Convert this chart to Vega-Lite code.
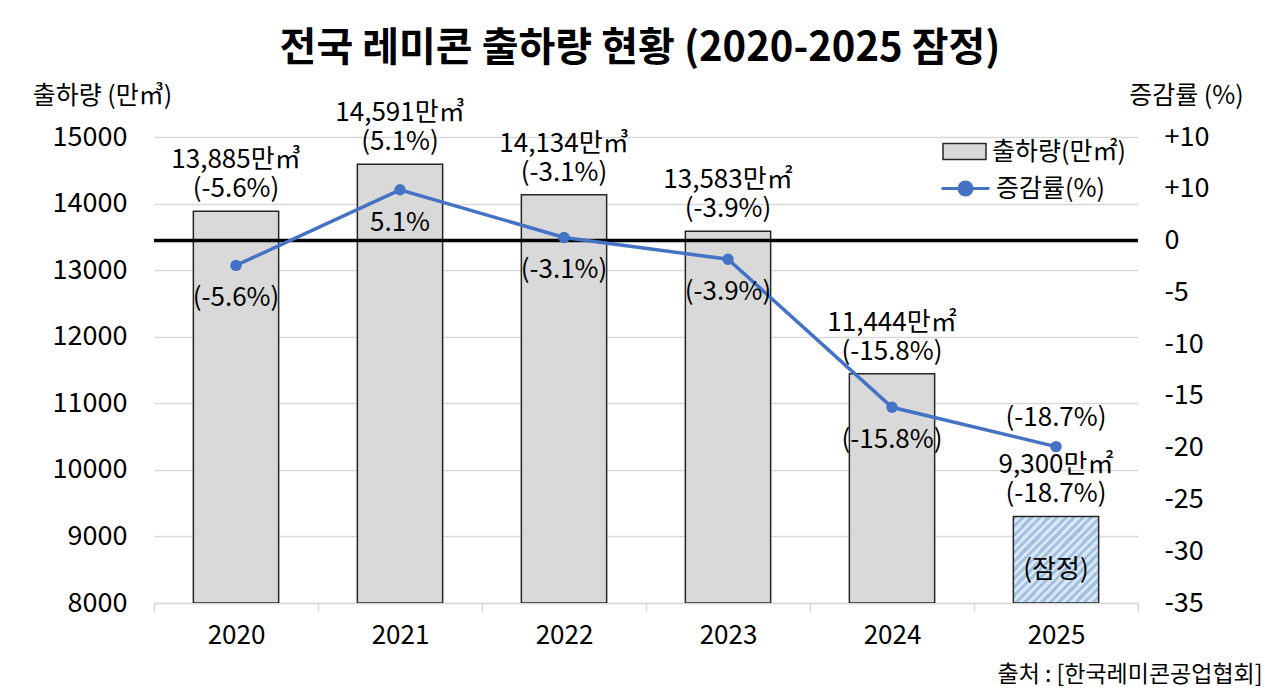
{
  "$schema": "https://vega.github.io/schema/vega-lite/v6.json",
  "description": "전국 레미콘 출하량 현황, bars for volume and a line for the growth rate",
  "width": 984,
  "height": 466,
  "autosize": {"type": "none"},
  "padding": {"left": 154, "top": 137, "right": 142, "bottom": 95},
  "background": "white",
  "title": {
    "text": "전국 레미콘 출하량 현황 (2020-2025 잠정)",
    "frame": "group",
    "anchor": "middle",
    "dx": -6,
    "offset": 14,
    "font": "Noto Sans CJK KR",
    "fontSize": 40,
    "fontWeight": "bold",
    "color": "black"
  },
  "config": {
    "view": {"stroke": null},
    "font": "Noto Sans CJK KR",
    "axis": {
      "labelFont": "Noto Sans CJK KR",
      "labelFontSize": 27,
      "labelColor": "black",
      "titleFont": "Noto Sans CJK KR",
      "titleFontSize": 25,
      "titleFontWeight": "normal",
      "titleColor": "black"
    },
    "axisX": {
      "labelAngle": 0,
      "labelFontSize": 26,
      "labelPadding": 11,
      "domainColor": "#d9d9d9",
      "domainWidth": 1.5,
      "tickColor": "#d9d9d9",
      "tickWidth": 1.5,
      "tickSize": 8,
      "tickBand": "extent",
      "titleX": 1108,
      "titleY": 71,
      "titleAlign": "right",
      "titleBaseline": "middle",
      "titleFontSize": 23
    },
    "legend": {
      "labelFont": "Noto Sans CJK KR",
      "labelFontSize": 25,
      "labelColor": "black",
      "padding": 0
    },
    "text": {"font": "Noto Sans CJK KR", "fontSize": 26, "color": "black"}
  },
  "data": {
    "values": [
      {"year": "2020", "volume": 13885, "rate": -5.6, "rate_plot": -2.4, "bar_label": ["13,885만㎥", "(-5.6%)"], "line_label": "(-5.6%)"},
      {"year": "2021", "volume": 14591, "rate": 5.1, "rate_plot": 4.9, "bar_label": ["14,591만㎥", "(5.1%)"], "line_label": "5.1%"},
      {"year": "2022", "volume": 14134, "rate": -3.1, "rate_plot": 0.3, "bar_label": ["14,134만㎥", "(-3.1%)"], "line_label": "(-3.1%)"},
      {"year": "2023", "volume": 13583, "rate": -3.9, "rate_plot": -1.8, "bar_label": ["13,583만㎡", "(-3.9%)"], "line_label": "(-3.9%)"},
      {"year": "2024", "volume": 11444, "rate": -15.8, "rate_plot": -16.1, "bar_label": ["11,444만㎡", "(-15.8%)"], "line_label": "(-15.8%)"},
      {"year": "2025", "volume": 9300, "rate": -18.7, "rate_plot": -19.9, "bar_label": ["9,300만㎡", "(-18.7%)"], "line_label": "(-18.7%)", "note": "(잠정)"}
    ]
  },
  "layer": [
    {
      "encoding": {
        "x": {
          "field": "year",
          "type": "ordinal",
          "scale": {"paddingInner": 0, "paddingOuter": 0},
          "axis": {"title": "출처 : [한국레미콘공업협회]"}
        },
        "y": {
          "field": "volume",
          "type": "quantitative",
          "scale": {"domain": [8000, 15000], "nice": false, "zero": false},
          "axis": {
            "orient": "left",
            "values": [8000, 9000, 10000, 11000, 12000, 13000, 14000, 15000],
            "format": "d",
            "grid": true,
            "gridColor": "#d9d9d9",
            "gridWidth": 1.5,
            "domain": false,
            "ticks": false,
            "labelPadding": 27,
            "title": "출하량 (만㎥)",
            "titleAngle": 0,
            "titleX": -52,
            "titleY": -42,
            "titleAlign": "center",
            "titleBaseline": "middle"
          }
        }
      },
      "layer": [
        {
          "transform": [{"filter": "datum.year !== '2025'"}],
          "mark": {"type": "bar", "width": {"band": 0.52}, "stroke": "#262626", "strokeWidth": 1.5, "clip": true},
          "encoding": {
            "y2": {"datum": 8000},
            "fill": {
              "datum": "출하량(만㎡)",
              "scale": {"range": ["#d9d9d9"]},
              "legend": {
                "orient": "none",
                "legendX": 788,
                "legendY": -8,
                "title": null,
                "symbolType": "M-1,-0.37H1V0.37H-1Z",
                "symbolSize": 1849,
                "labelOffset": 5,
                "encode": {"symbols": {"update": {"stroke": {"value": "#262626"}, "strokeWidth": {"value": 1.5}}}}
              }
            }
          }
        },
        {
          "transform": [{"filter": "datum.year === '2025'"}],
          "mark": {
            "type": "bar",
            "width": {"band": 0.52},
            "stroke": "#262626",
            "strokeWidth": 1.5,
            "clip": true,
            "fill": {
              "gradient": "linear",
              "x1": 0, "y1": 0, "x2": 1, "y2": 1,
              "stops": [
                {"offset": 0, "color": "#a3c2e3"}, {"offset": 0.025, "color": "#a3c2e3"},
                {"offset": 0.025, "color": "#d9e7f5"}, {"offset": 0.05, "color": "#d9e7f5"},
                {"offset": 0.05, "color": "#a3c2e3"}, {"offset": 0.075, "color": "#a3c2e3"},
                {"offset": 0.075, "color": "#d9e7f5"}, {"offset": 0.1, "color": "#d9e7f5"},
                {"offset": 0.1, "color": "#a3c2e3"}, {"offset": 0.125, "color": "#a3c2e3"},
                {"offset": 0.125, "color": "#d9e7f5"}, {"offset": 0.15, "color": "#d9e7f5"},
                {"offset": 0.15, "color": "#a3c2e3"}, {"offset": 0.175, "color": "#a3c2e3"},
                {"offset": 0.175, "color": "#d9e7f5"}, {"offset": 0.2, "color": "#d9e7f5"},
                {"offset": 0.2, "color": "#a3c2e3"}, {"offset": 0.225, "color": "#a3c2e3"},
                {"offset": 0.225, "color": "#d9e7f5"}, {"offset": 0.25, "color": "#d9e7f5"},
                {"offset": 0.25, "color": "#a3c2e3"}, {"offset": 0.275, "color": "#a3c2e3"},
                {"offset": 0.275, "color": "#d9e7f5"}, {"offset": 0.3, "color": "#d9e7f5"},
                {"offset": 0.3, "color": "#a3c2e3"}, {"offset": 0.325, "color": "#a3c2e3"},
                {"offset": 0.325, "color": "#d9e7f5"}, {"offset": 0.35, "color": "#d9e7f5"},
                {"offset": 0.35, "color": "#a3c2e3"}, {"offset": 0.375, "color": "#a3c2e3"},
                {"offset": 0.375, "color": "#d9e7f5"}, {"offset": 0.4, "color": "#d9e7f5"},
                {"offset": 0.4, "color": "#a3c2e3"}, {"offset": 0.425, "color": "#a3c2e3"},
                {"offset": 0.425, "color": "#d9e7f5"}, {"offset": 0.45, "color": "#d9e7f5"},
                {"offset": 0.45, "color": "#a3c2e3"}, {"offset": 0.475, "color": "#a3c2e3"},
                {"offset": 0.475, "color": "#d9e7f5"}, {"offset": 0.5, "color": "#d9e7f5"},
                {"offset": 0.5, "color": "#a3c2e3"}, {"offset": 0.525, "color": "#a3c2e3"},
                {"offset": 0.525, "color": "#d9e7f5"}, {"offset": 0.55, "color": "#d9e7f5"},
                {"offset": 0.55, "color": "#a3c2e3"}, {"offset": 0.575, "color": "#a3c2e3"},
                {"offset": 0.575, "color": "#d9e7f5"}, {"offset": 0.6, "color": "#d9e7f5"},
                {"offset": 0.6, "color": "#a3c2e3"}, {"offset": 0.625, "color": "#a3c2e3"},
                {"offset": 0.625, "color": "#d9e7f5"}, {"offset": 0.65, "color": "#d9e7f5"},
                {"offset": 0.65, "color": "#a3c2e3"}, {"offset": 0.675, "color": "#a3c2e3"},
                {"offset": 0.675, "color": "#d9e7f5"}, {"offset": 0.7, "color": "#d9e7f5"},
                {"offset": 0.7, "color": "#a3c2e3"}, {"offset": 0.725, "color": "#a3c2e3"},
                {"offset": 0.725, "color": "#d9e7f5"}, {"offset": 0.75, "color": "#d9e7f5"},
                {"offset": 0.75, "color": "#a3c2e3"}, {"offset": 0.775, "color": "#a3c2e3"},
                {"offset": 0.775, "color": "#d9e7f5"}, {"offset": 0.8, "color": "#d9e7f5"},
                {"offset": 0.8, "color": "#a3c2e3"}, {"offset": 0.825, "color": "#a3c2e3"},
                {"offset": 0.825, "color": "#d9e7f5"}, {"offset": 0.85, "color": "#d9e7f5"},
                {"offset": 0.85, "color": "#a3c2e3"}, {"offset": 0.875, "color": "#a3c2e3"},
                {"offset": 0.875, "color": "#d9e7f5"}, {"offset": 0.9, "color": "#d9e7f5"},
                {"offset": 0.9, "color": "#a3c2e3"}, {"offset": 0.925, "color": "#a3c2e3"},
                {"offset": 0.925, "color": "#d9e7f5"}, {"offset": 0.95, "color": "#d9e7f5"},
                {"offset": 0.95, "color": "#a3c2e3"}, {"offset": 0.975, "color": "#a3c2e3"},
                {"offset": 0.975, "color": "#d9e7f5"}, {"offset": 1, "color": "#d9e7f5"}
              ]
            }
          },
          "encoding": {"y2": {"datum": 8000}}
        },
        {
          "mark": {"type": "text", "baseline": "bottom", "dy": -38, "lineHeight": 29},
          "encoding": {"text": {"field": "bar_label"}}
        },
        {
          "transform": [{"filter": "datum.note != null"}],
          "mark": {"type": "text", "baseline": "middle", "dy": 54},
          "encoding": {"text": {"field": "note"}}
        }
      ]
    },
    {
      "data": {"values": [{"zero": 0}]},
      "mark": {"type": "rule", "color": "black", "strokeWidth": 3.5},
      "encoding": {
        "y": {"field": "zero", "type": "quantitative", "scale": {"domain": [-35, 10], "nice": false, "zero": false}, "axis": null}
      }
    },
    {
      "encoding": {
        "x": {
          "field": "year",
          "type": "ordinal",
          "scale": {"paddingInner": 0, "paddingOuter": 0},
          "axis": {"title": "출처 : [한국레미콘공업협회]"}
        },
        "y": {
          "field": "rate_plot",
          "type": "quantitative",
          "scale": {"domain": [-35, 10], "nice": false, "zero": false},
          "axis": {
            "orient": "right",
            "values": [-35, -30, -25, -20, -15, -10, -5, 0, 5, 10],
            "labelExpr": "datum.value == 5 ? '+10' : (datum.value > 0 ? '+' : '') + datum.value",
            "grid": false,
            "domain": false,
            "ticks": false,
            "labelPadding": 26,
            "title": "증감률 (%)",
            "titleAngle": 0,
            "titleX": 48,
            "titleY": -42,
            "titleAlign": "center",
            "titleBaseline": "middle"
          }
        }
      },
      "layer": [
        {
          "mark": {"type": "line", "strokeWidth": 3.5},
          "encoding": {
            "stroke": {
              "datum": "증감률(%)",
              "scale": {"range": ["#4472c4"]},
              "legend": {
                "orient": "none",
                "legendX": 786,
                "legendY": 26,
                "title": null,
                "symbolType": "M-1,0H1M-0.27,0A0.27,0.27 0 1,1 0.27,0A0.27,0.27 0 1,1 -0.27,0Z",
                "symbolSize": 2304,
                "symbolStrokeWidth": 3,
                "labelOffset": 5,
                "encode": {"symbols": {"update": {"fill": {"value": "#4472c4"}, "stroke": {"value": "#4472c4"}}}}
              }
            }
          }
        },
        {
          "mark": {"type": "point", "filled": true, "color": "#4472c4", "size": 130, "opacity": 1}
        },
        {
          "transform": [{"filter": "datum.year !== '2025'"}],
          "mark": {"type": "text", "baseline": "middle", "dy": 33},
          "encoding": {"text": {"field": "line_label"}}
        },
        {
          "transform": [{"filter": "datum.year === '2025'"}],
          "mark": {"type": "text", "baseline": "middle", "dy": -29},
          "encoding": {"text": {"field": "line_label"}}
        }
      ]
    }
  ],
  "resolve": {"scale": {"y": "independent"}}
}
